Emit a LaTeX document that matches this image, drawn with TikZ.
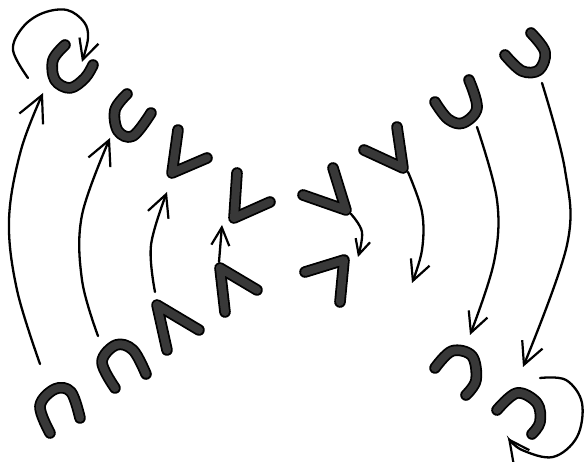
\documentclass[tikz,border=0pt]{standalone}
\usetikzlibrary{arrows.meta}
\begin{document}
\begin{tikzpicture}[x=1pt,y=-1pt,
  brush/.style={draw=black, line width=1.8pt, double=black!78, double distance=8pt, line cap=round, line join=round},
  arr/.style={draw=black, line width=2.3pt, line cap=round, -{Straight Barb[length=#1, width=#1, line width=2.2pt]}},
  arr/.default=18pt]
\useasboundingbox (0,0) rectangle (587,462);
% ---- thick brush shapes ----
\draw[brush] plot[smooth,tension=0.6] coordinates {(65,45) (53,60) (55,80) (70,88) (85,78) (93,65)};
\draw[brush] plot[smooth,tension=0.6] coordinates {(127,94) (115,110) (118,131) (133,136) (151,113)};
\draw[brush] (178,130) -- (172,173) -- (207,158);
\draw[brush] (237,173) -- (234,218) -- (270,202);
\draw[brush] (257,290) -- (220,268) -- (225,312);
\draw[brush] (199,330) -- (157,305) -- (167,350);
\draw[brush] (303,195) -- (346,210) -- (333,168);
\draw[brush] (305,272) -- (344,260) -- (340,302);
\draw[brush] (364,150) -- (403,168) -- (397,127);
\draw[brush] plot[smooth,tension=0.6] coordinates {(435,102) (448,119) (463,123) (477,108) (469,80)};
\draw[brush] plot[smooth,tension=0.6] coordinates {(505,55) (522,71) (539,70) (545,52) (531,33)};
\draw[brush] plot[smooth,tension=0.6] coordinates {(50,433) (40,406) (55,389) (71,392) (80,418)};
\draw[brush] plot[smooth,tension=0.6] coordinates {(115,388) (102,362) (116,345) (133,350) (146,374)};
\draw[brush] plot[smooth,tension=0.6] coordinates {(435,368) (452,351) (472,356) (476,380) (466,395)};
\draw[brush] plot[smooth,tension=0.6] coordinates {(497,410) (517,393) (537,403) (540,422) (532,434)};
% ---- arrow end points ----
\coordinate (a1s) at (40,364);  \coordinate (a1e) at (43,93);
\coordinate (a2s) at (98,336);  \coordinate (a2e) at (110,138);
\coordinate (a3s) at (155,292); \coordinate (a3e) at (167,192);
\coordinate (a4s) at (219,262); \coordinate (a4e) at (222,225);
\coordinate (a5s) at (351,214); \coordinate (a5e) at (358,257);
\coordinate (a6s) at (408,172); \coordinate (a6e) at (412,283);
\coordinate (a7s) at (477,127); \coordinate (a7e) at (470,335);
\coordinate (a8s) at (542,83);  \coordinate (a8e) at (523,367);
\coordinate (l1s) at (28,78);   \coordinate (l1e) at (82,62);
\coordinate (l2s) at (540,378); \coordinate (l2e) at (508,438);
% ---- arrows ----
\draw[arr=26pt] plot[smooth,tension=0.6] coordinates {(a1s) (17,290) (9,220) (21,150) (a1e)};
\draw[arr=24pt] plot[smooth,tension=0.6] coordinates {(a2s) (82,280) (82,215) (a2e)};
\draw[arr=22pt] plot[smooth,tension=0.6] coordinates {(a3s) (151,245) (a3e)};
\draw[arr=18pt] (a4s) -- (a4e);
\draw[arr=15pt] plot[smooth,tension=0.6] coordinates {(a5s) (362,232) (a5e)};
\draw[arr=20pt] plot[smooth,tension=0.6] coordinates {(a6s) (422,212) (422,250) (a6e)};
\draw[arr=20pt] plot[smooth,tension=0.6] coordinates {(a7s) (497,200) (494,262) (a7e)};
\draw[arr=22pt] plot[smooth,tension=0.6] coordinates {(a8s) (565,170) (567,245) (a8e)};
\draw[arr=20pt] plot[smooth,tension=0.6] coordinates {(l1s) (13,50) (23,27) (43,13) (67,10) (84,22) (88,38) (l1e)};
\draw[arr=20pt] plot[smooth,tension=0.6] coordinates {(l2s) (566,380) (582,403) (577,437) (553,457) (522,450) (l2e)};
\end{tikzpicture}
\end{document}
